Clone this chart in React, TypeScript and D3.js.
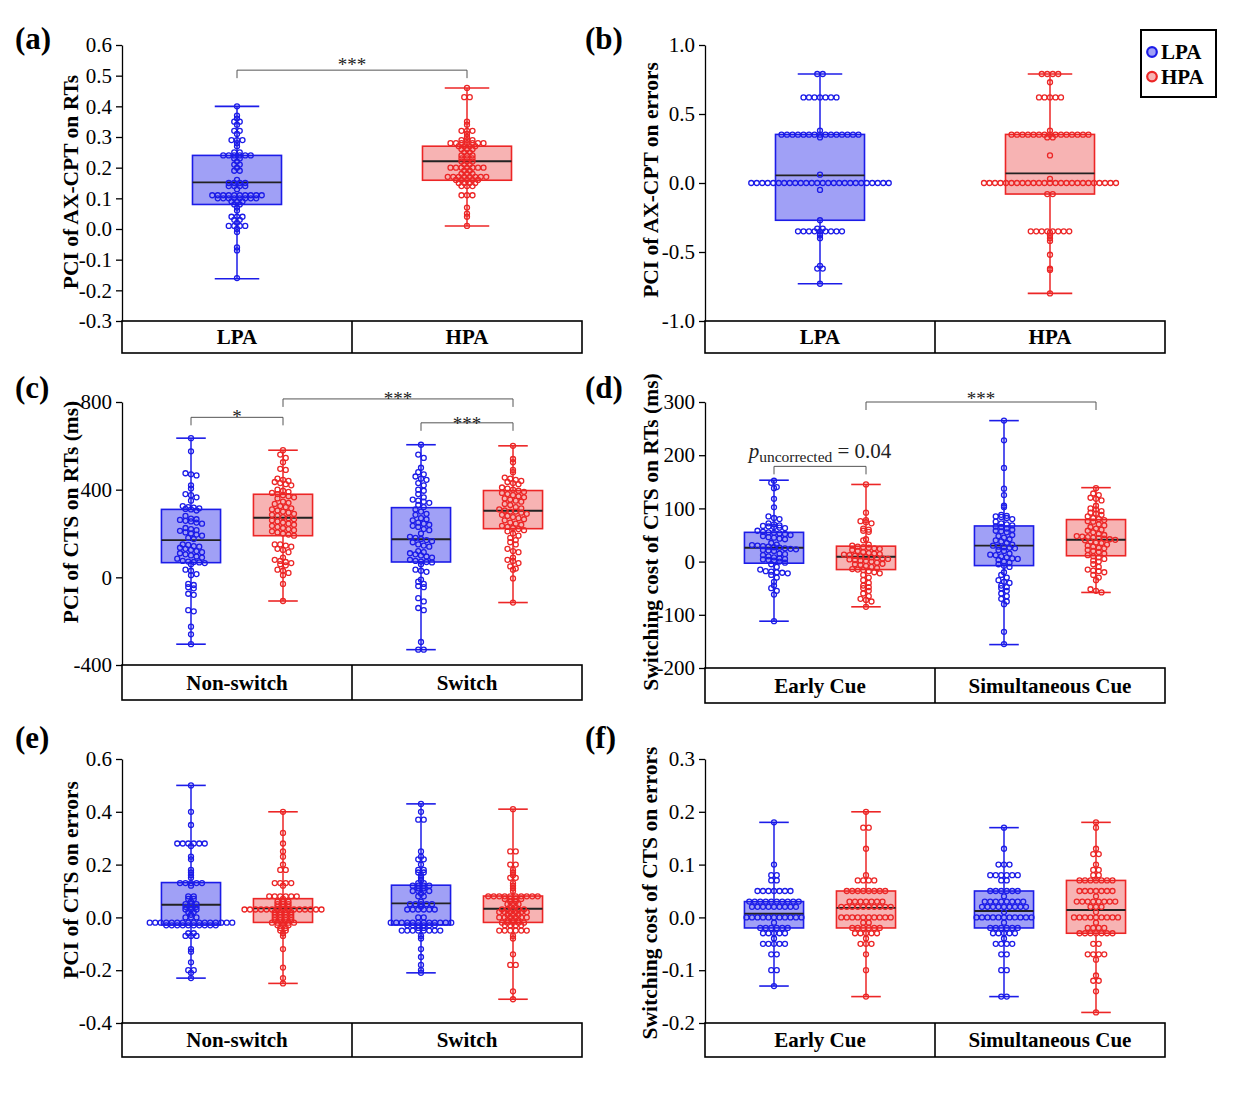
import { useRef, useEffect } from "react";
import * as d3 from "d3";

const FONT = "'Liberation Serif', 'Times New Roman', Times, serif";
const BLUE = "#1c1ce8";
const BLUE_FILL = "#a0a0f6";
const RED = "#ec2626";
const RED_FILL = "#f7b3b3";
const PLOT_W = 460;

// ---------- tick labels ----------
const aTicks = [-0.3, -0.2, -0.1, 0.0, 0.1, 0.2, 0.3, 0.4, 0.5, 0.6];
const bTicks = [-1.0, -0.5, 0.0, 0.5, 1.0];
const cTicks = [-400, 0, 400, 800];
const dTicks = [-200, -100, 0, 100, 200, 300];
const eTicks = [-0.4, -0.2, 0.0, 0.2, 0.4, 0.6];
const fTicks = [-0.2, -0.1, 0.0, 0.1, 0.2, 0.3];

// ---------- categories ----------
const groupNames = ["LPA", "HPA"];
const taskCats = ["Non-switch", "Switch"];
const cueCats = ["Early Cue", "Simultaneous Cue"];

// ---------- box statistics: [min, q1, median, q3, max] ----------
const aBoxLPA = [-0.162, 0.08, 0.152, 0.24, 0.40];
const aBoxHPA = [0.01, 0.159, 0.221, 0.27, 0.46];
const bBoxLPA = [-0.73, -0.27, 0.055, 0.352, 0.79];
const bBoxHPA = [-0.80, -0.08, 0.07, 0.352, 0.79];
const cBoxNsLPA = [-305, 67, 170, 310, 635];
const cBoxNsHPA = [-108, 190, 272, 379, 580];
const cBoxSwLPA = [-330, 70, 174, 318, 605];
const cBoxSwHPA = [-115, 222, 304, 396, 600];
const dBoxEaLPA = [-112, -3, 26, 55, 153];
const dBoxEaHPA = [-85, -15, 9, 29, 145];
const dBoxSiLPA = [-156, -7.5, 30, 67, 265];
const dBoxSiHPA = [-58, 11, 41, 79, 139];
const eBoxNsLPA = [-0.23, -0.029, 0.048, 0.132, 0.50];
const eBoxNsHPA = [-0.25, -0.019, 0.034, 0.071, 0.40];
const eBoxSwLPA = [-0.21, -0.029, 0.053, 0.122, 0.43];
const eBoxSwHPA = [-0.31, -0.019, 0.033, 0.081, 0.41];
const fBoxEaLPA = [-0.13, -0.02, 0.007, 0.03, 0.18];
const fBoxEaHPA = [-0.15, -0.02, 0.018, 0.05, 0.20];
const fBoxSiLPA = [-0.15, -0.02, 0.012, 0.05, 0.17];
const fBoxSiHPA = [-0.18, -0.03, 0.014, 0.07, 0.18];

// ---------- individual participants ----------
const aLPA = [
  0.40, 0.37, 0.36, 0.35, 0.35, 0.34, 0.32, 0.32, 0.31, 0.29, 0.29, 0.29, 0.28, 0.27,
  0.25, 0.25, 0.24, 0.24, 0.24, 0.24, 0.24, 0.24, 0.23, 0.23, 0.22, 0.21, 0.21, 0.20,
  0.19, 0.19, 0.16, 0.15, 0.15, 0.15, 0.15, 0.14, 0.14, 0.14, 0.14, 0.13,
  0.11, 0.11, 0.11, 0.11, 0.11, 0.11, 0.11, 0.11, 0.11, 0.11,
  0.10, 0.10, 0.10, 0.10, 0.10, 0.10, 0.10, 0.10, 0.09, 0.09, 0.09, 0.08, 0.08,
  0.07, 0.06, 0.04, 0.04, 0.04, 0.03, 0.03, 0.02, 0.01, 0.01, 0.01, 0.01, 0.00, -0.01,
  -0.06, -0.07, -0.16,
];
const aHPA = [
  0.46, 0.43, 0.43, 0.35, 0.34, 0.32, 0.32, 0.32, 0.31, 0.30, 0.29, 0.29, 0.29,
  0.28, 0.28, 0.28, 0.28, 0.28, 0.28, 0.28, 0.27, 0.27, 0.27, 0.27, 0.26, 0.26, 0.26,
  0.25, 0.25, 0.24, 0.24, 0.24, 0.23, 0.23, 0.23, 0.22, 0.22, 0.22, 0.21, 0.21,
  0.20, 0.20, 0.20, 0.20, 0.20, 0.20, 0.20, 0.19, 0.19, 0.18, 0.18, 0.18,
  0.17, 0.17, 0.17, 0.17, 0.17, 0.17, 0.17, 0.17, 0.16, 0.16, 0.16, 0.16, 0.16,
  0.15, 0.15, 0.15, 0.15, 0.14, 0.14, 0.14, 0.11, 0.11, 0.11, 0.07, 0.05, 0.04, 0.01,
];
const bLPA = [
  0.79, 0.79, 0.62, 0.62, 0.62, 0.62, 0.62, 0.62, 0.62, 0.38,
  0.35, 0.35, 0.35, 0.35, 0.35, 0.35, 0.35, 0.35, 0.35, 0.35, 0.35, 0.35, 0.35, 0.35, 0.35,
  0.33, 0.06,
  0.00, 0.00, 0.00, 0.00, 0.00, 0.00, 0.00, 0.00, 0.00, 0.00, 0.00, 0.00, 0.00,
  0.00, 0.00, 0.00, 0.00, 0.00, 0.00, 0.00, 0.00, 0.00, 0.00, 0.00, 0.00, 0.00,
  -0.05, -0.27, -0.33, -0.33,
  -0.35, -0.35, -0.35, -0.35, -0.35, -0.35, -0.35, -0.35, -0.35,
  -0.37, -0.38, -0.40, -0.60, -0.62, -0.62, -0.73,
];
const bHPA = [
  0.79, 0.79, 0.79, 0.79, 0.73, 0.62, 0.62, 0.62, 0.62, 0.62, 0.38,
  0.35, 0.35, 0.35, 0.35, 0.35, 0.35, 0.35, 0.35, 0.35, 0.35, 0.35, 0.35, 0.35, 0.35, 0.35,
  0.33, 0.33, 0.20, 0.03,
  0.00, 0.00, 0.00, 0.00, 0.00, 0.00, 0.00, 0.00, 0.00, 0.00, 0.00, 0.00, 0.00,
  0.00, 0.00, 0.00, 0.00, 0.00, 0.00, 0.00, 0.00, 0.00, 0.00, 0.00, 0.00,
  -0.08, -0.08,
  -0.35, -0.35, -0.35, -0.35, -0.35, -0.35, -0.35, -0.35,
  -0.36, -0.38, -0.40, -0.42, -0.52, -0.62, -0.63, -0.80,
];
const cNsLPA = [
  635, 575, 475, 470, 465, 420, 405, 380, 375, 365, 350, 325, 320, 318, 315, 312, 310, 305,
  280, 268, 265, 262, 258, 255, 250, 245, 225, 220, 215, 212, 205, 200, 195, 190, 180, 175,
  150, 148, 142, 140, 135, 130, 125, 120, 115, 110, 105, 100, 95, 90, 85, 75, 72, 70, 68,
  65, 60, 35, 30, 15, 10, -30, -35, -45, -50, -75, -80, -150, -155, -225, -260, -305,
];
const cNsHPA = [
  580, 560, 545, 525, 495, 490, 450, 445, 440, 435, 430, 425, 420, 400, 395, 390, 385,
  380, 375, 370, 365, 360, 345, 340, 335, 325, 320, 315, 310, 305, 300, 295, 290, 285,
  280, 275, 270, 265, 260, 255, 250, 245, 240, 235, 230, 225, 220, 215, 210, 205, 200,
  195, 190, 150, 150, 145, 140, 130, 125, 115, 90, 80, 75, 70, 65, 60, 55, 35, 30, 20,
  10, -30, -108,
];
const cSwLPA = [
  605, 560, 545, 500, 480, 470, 460, 450, 445, 430, 420, 400, 395, 380, 365, 355, 350,
  345, 340, 330, 320, 310, 300, 290, 285, 270, 265, 260, 250, 245, 240, 235, 230, 220,
  215, 200, 185, 180, 175, 170, 165, 160, 150, 145, 140, 120, 115, 110, 105, 100, 95, 90,
  80, 75, 72, 70, 68, 60, 35, 30, 25, -10, -20, -30, -40, -45, -95, -110, -140, -150,
  -295, -330, -330,
];
const cSwHPA = [
  600, 540, 525, 490, 480, 455, 450, 445, 440, 435, 430, 425, 410, 405, 400, 395, 390,
  385, 380, 375, 370, 365, 360, 355, 350, 345, 335, 330, 320, 315, 310, 305, 300, 300,
  295, 290, 285, 280, 275, 270, 265, 260, 250, 245, 240, 235, 230, 225, 220, 215, 210,
  200, 190, 180, 170, 160, 150, 130, 120, 115, 90, 80, 75, 65, 50, 40, 35, -5, -115,
];
const dEaLPA = [
  152, 148, 140, 138, 118, 102, 85, 82, 80, 72, 70, 68, 67, 66, 65, 64, 63, 58, 56, 55,
  54, 53, 52, 50, 48, 46, 45, 43, 42, 35, 32, 31, 30, 29, 28, 27, 26, 25, 24, 23, 22, 21,
  20, 15, 14, 12, 10, 8, 6, 5, 4, 3, 2, 0, -2, -5, -10, -15, -18, -19, -20, -21, -22, -25,
  -30, -38, -45, -50, -55, -62, -112,
];
const dEaHPA = [
  145, 92, 78, 76, 74, 72, 62, 60, 58, 56, 42, 40, 32, 30, 28, 27, 26, 25, 24, 22, 20,
  18, 16, 15, 14, 13, 12, 11, 10, 9, 8, 7, 6, 5, 4, 3, 2, 1, 0, -2, -4, -5, -6, -8, -10,
  -12, -14, -15, -16, -18, -20, -22, -25, -30, -35, -40, -45, -48, -50, -55, -60, -65,
  -70, -72, -75, -85,
];
const dSiLPA = [
  265, 228, 176, 137, 125, 105, 102, 88, 86, 85, 84, 82, 80, 75, 72, 70, 68, 66, 65, 62,
  60, 58, 57, 55, 50, 48, 45, 42, 40, 38, 35, 32, 30, 28, 27, 26, 25, 22, 20, 15, 13, 12,
  10, 8, 6, 5, 3, 0, -2, -5, -8, -10, -20, -25, -30, -35, -38, -40, -45, -48, -50, -55,
  -60, -65, -70, -75, -80, -132, -155,
];
const dSiHPA = [
  138, 128, 125, 120, 118, 115, 105, 100, 98, 95, 92, 90, 88, 85, 82, 80, 78, 76, 75, 70,
  68, 65, 62, 60, 58, 55, 52, 50, 48, 47, 46, 45, 44, 43, 42, 41, 40, 38, 36, 35, 32, 30,
  28, 26, 25, 22, 20, 18, 15, 12, 10, 8, 5, 2, 0, -5, -10, -15, -17, -18, -20, -25, -30,
  -35, -52, -55, -58,
];
const eNsLPA = [
  0.50, 0.40, 0.35, 0.28, 0.28, 0.28, 0.28, 0.28, 0.28, 0.27, 0.23, 0.22, 0.18, 0.17,
  0.16, 0.15, 0.13, 0.13, 0.13, 0.13, 0.13, 0.12, 0.08, 0.08, 0.07, 0.07, 0.06,
  0.05, 0.05, 0.05, 0.04, 0.04, 0.04, 0.03, 0.03, 0.03, 0.02, 0.02, 0.01, 0.00, 0.00, 0.00,
  -0.02, -0.02, -0.02, -0.02, -0.02, -0.02, -0.02, -0.02,
  -0.02, -0.02, -0.02, -0.02, -0.02, -0.02, -0.02, -0.02,
  -0.03, -0.03, -0.03, -0.03, -0.03, -0.03, -0.03, -0.03, -0.03, -0.03,
  -0.06, -0.06, -0.07, -0.07, -0.07, -0.12, -0.13, -0.17, -0.20, -0.20, -0.21, -0.23,
];
const eNsHPA = [
  0.40, 0.32, 0.28, 0.25, 0.23, 0.20, 0.18, 0.18, 0.13, 0.13, 0.13, 0.13, 0.12,
  0.08, 0.08, 0.08, 0.08, 0.08, 0.08, 0.07, 0.06, 0.06, 0.06, 0.05, 0.05, 0.05,
  0.04, 0.04, 0.04,
  0.03, 0.03, 0.03, 0.03, 0.03, 0.03, 0.03, 0.03, 0.03, 0.03, 0.03, 0.03, 0.03, 0.03, 0.03,
  0.02, 0.02, 0.02, 0.02, 0.01, 0.01, 0.01, 0.01, 0.00, 0.00, 0.00, 0.00,
  -0.01, -0.01, -0.01, -0.01, -0.02, -0.02, -0.02, -0.02, -0.02, -0.03, -0.03, -0.03,
  -0.04, -0.04, -0.05, -0.05, -0.06, -0.07, -0.12, -0.19, -0.23, -0.25,
];
const eSwLPA = [
  0.43, 0.40, 0.37, 0.37, 0.25, 0.23, 0.22, 0.22, 0.20, 0.18, 0.18, 0.17, 0.17, 0.16,
  0.15, 0.14, 0.13, 0.13, 0.12, 0.12, 0.12, 0.12, 0.11, 0.11, 0.10, 0.10, 0.10, 0.10,
  0.09, 0.08, 0.08, 0.06, 0.05, 0.05, 0.05, 0.05, 0.05, 0.04,
  0.03, 0.03, 0.03, 0.03, 0.03, 0.03, 0.00, 0.00,
  -0.02, -0.02, -0.02, -0.02, -0.02, -0.02, -0.02, -0.02, -0.02, -0.02, -0.02, -0.02,
  -0.03, -0.03, -0.03, -0.03, -0.03, -0.03, -0.04, -0.04,
  -0.05, -0.05, -0.05, -0.05, -0.05, -0.05, -0.05, -0.05,
  -0.07, -0.08, -0.12, -0.15, -0.18, -0.20, -0.21,
];
const eSwHPA = [
  0.41, 0.25, 0.25, 0.20, 0.20, 0.18, 0.17, 0.16, 0.15, 0.15, 0.13, 0.12, 0.11, 0.10,
  0.08, 0.08, 0.08, 0.08, 0.08, 0.08, 0.08, 0.08, 0.08, 0.08,
  0.07, 0.07, 0.07, 0.07, 0.06, 0.06, 0.05, 0.05, 0.05, 0.04, 0.04,
  0.03, 0.03, 0.03, 0.03, 0.03, 0.02, 0.02, 0.02, 0.02, 0.02, 0.02,
  0.01, 0.01, 0.01, 0.00, 0.00, 0.00, 0.00, 0.00, 0.00,
  -0.01, -0.01, -0.01, -0.02, -0.02, -0.02, -0.02, -0.02, -0.03, -0.03, -0.03, -0.03,
  -0.05, -0.05, -0.05, -0.05, -0.05, -0.05,
  -0.07, -0.08, -0.14, -0.18, -0.18, -0.28, -0.31,
];
const fEaLPA = [
  0.18, 0.10, 0.08, 0.08, 0.07, 0.07,
  0.05, 0.05, 0.05, 0.05, 0.05, 0.05, 0.05,
  0.03, 0.03, 0.03, 0.03, 0.03, 0.03, 0.03, 0.03, 0.03, 0.03,
  0.02, 0.02, 0.02, 0.02, 0.02, 0.02, 0.02, 0.02, 0.02,
  0.00, 0.00, 0.00, 0.00, 0.00, 0.00, 0.00, 0.00, 0.00, 0.00, 0.00, -0.01,
  -0.02, -0.02, -0.02, -0.02, -0.02, -0.02, -0.03, -0.03, -0.03, -0.03, -0.03, -0.04,
  -0.05, -0.05, -0.05, -0.05, -0.05, -0.07, -0.07, -0.10, -0.10, -0.13,
];
const fEaHPA = [
  0.20, 0.17, 0.17, 0.13, 0.08, 0.07, 0.07, 0.07, 0.07,
  0.05, 0.05, 0.05, 0.05, 0.05, 0.05, 0.05, 0.05,
  0.03, 0.03, 0.03, 0.03, 0.03, 0.03, 0.03,
  0.02, 0.02, 0.02, 0.02, 0.02, 0.02, 0.02, 0.02, 0.02, 0.02,
  0.00, 0.00, 0.00, 0.00, 0.00, 0.00, 0.00, 0.00, 0.00, 0.00, -0.01, -0.01,
  -0.02, -0.02, -0.02, -0.02, -0.02, -0.02, -0.03, -0.03, -0.03, -0.03, -0.03, -0.04,
  -0.05, -0.05, -0.05, -0.07, -0.10, -0.15,
];
const fSiLPA = [
  0.17, 0.13, 0.10, 0.10, 0.10, 0.08, 0.08, 0.08, 0.08, 0.08, 0.08, 0.07, 0.07,
  0.05, 0.05, 0.05, 0.05, 0.05, 0.05, 0.04,
  0.03, 0.03, 0.03, 0.03, 0.03, 0.03, 0.03, 0.03,
  0.02, 0.02, 0.02, 0.02, 0.02, 0.02, 0.02, 0.02, 0.02, 0.01,
  0.00, 0.00, 0.00, 0.00, 0.00, 0.00, 0.00, 0.00, 0.00, 0.00, 0.00, -0.01,
  -0.02, -0.02, -0.02, -0.02, -0.02, -0.02, -0.03, -0.03, -0.03, -0.03, -0.03, -0.04,
  -0.05, -0.05, -0.05, -0.05, -0.07, -0.07, -0.10, -0.10, -0.15, -0.15,
];
const fSiHPA = [
  0.18, 0.17, 0.13, 0.12, 0.12, 0.10, 0.09, 0.09, 0.08, 0.08,
  0.07, 0.07, 0.07, 0.07, 0.07, 0.07, 0.07,
  0.05, 0.05, 0.05, 0.05, 0.05, 0.05, 0.05, 0.04,
  0.03, 0.03, 0.03, 0.03, 0.03, 0.03, 0.03, 0.03, 0.02, 0.02, 0.02, 0.01,
  0.00, 0.00, 0.00, 0.00, 0.00, 0.00, 0.00, 0.00, 0.00, -0.01,
  -0.02, -0.02, -0.02, -0.02, -0.03, -0.03, -0.03, -0.03, -0.03, -0.03, -0.03,
  -0.05, -0.05, -0.07, -0.07, -0.07, -0.07, -0.08, -0.11, -0.12, -0.12, -0.14, -0.18,
];

interface Series { cat: string; grp: string; values: number[]; box: number[] }
interface Bracket { from: [string, string]; to: [string, string]; level: number; text: string; dy: number; pval?: boolean }
interface Frame {
  x: number; top: number; bottom: number; table: number;
  labelX: number; labelY: number; tagX: number; tagY: number;
}
interface Panel {
  tag: string; ylabel: string; ticks: number[]; digits: number; cats: string[];
  split: boolean; bin: number; series: Series[]; brackets: Bracket[]; frame: Frame;
}

const frames: Record<string, Frame> = {
  a: { x: 122, top: 45, bottom: 321, table: 353, labelX: 70, labelY: 182, tagX: 15, tagY: 49 },
  b: { x: 705, top: 45, bottom: 321, table: 353, labelX: 650, labelY: 180, tagX: 585, tagY: 49 },
  c: { x: 122, top: 402, bottom: 665, table: 700, labelX: 70, labelY: 512, tagX: 15, tagY: 398 },
  d: { x: 705, top: 402, bottom: 668, table: 703, labelX: 650, labelY: 532, tagX: 585, tagY: 398 },
  e: { x: 122, top: 759, bottom: 1023, table: 1057, labelX: 70, labelY: 880, tagX: 15, tagY: 748 },
  f: { x: 705, top: 759, bottom: 1023, table: 1057, labelX: 649, labelY: 893, tagX: 585, tagY: 748 },
};

const panels: Panel[] = [
  {
    tag: "(a)", ylabel: "PCI of AX-CPT on RTs", ticks: aTicks, digits: 1, cats: groupNames,
    split: false, bin: 0.01, frame: frames.a,
    series: [
      { cat: "LPA", grp: "LPA", values: aLPA, box: aBoxLPA },
      { cat: "HPA", grp: "HPA", values: aHPA, box: aBoxHPA },
    ],
    brackets: [{ from: ["LPA", "LPA"], to: ["HPA", "HPA"], level: 0.518, text: "***", dy: 1 }],
  },
  {
    tag: "(b)", ylabel: "PCI of AX-CPT on errors", ticks: bTicks, digits: 1, cats: groupNames,
    split: false, bin: 0.01, frame: frames.b,
    series: [
      { cat: "LPA", grp: "LPA", values: bLPA, box: bBoxLPA },
      { cat: "HPA", grp: "HPA", values: bHPA, box: bBoxHPA },
    ],
    brackets: [],
  },
  {
    tag: "(c)", ylabel: "PCI of CTS on RTs (ms)", ticks: cTicks, digits: 0, cats: taskCats,
    split: true, bin: 25, frame: frames.c,
    series: [
      { cat: "Non-switch", grp: "LPA", values: cNsLPA, box: cBoxNsLPA },
      { cat: "Non-switch", grp: "HPA", values: cNsHPA, box: cBoxNsHPA },
      { cat: "Switch", grp: "LPA", values: cSwLPA, box: cBoxSwLPA },
      { cat: "Switch", grp: "HPA", values: cSwHPA, box: cBoxSwHPA },
    ],
    brackets: [
      { from: ["Non-switch", "LPA"], to: ["Non-switch", "HPA"], level: 730, text: "*", dy: 6 },
      { from: ["Non-switch", "HPA"], to: ["Switch", "HPA"], level: 814, text: "***", dy: 6 },
      { from: ["Switch", "LPA"], to: ["Switch", "HPA"], level: 705, text: "***", dy: 7 },
    ],
  },
  {
    tag: "(d)", ylabel: "Switching cost of CTS on RTs (ms)", ticks: dTicks, digits: 0, cats: cueCats,
    split: true, bin: 9, frame: frames.d,
    series: [
      { cat: "Early Cue", grp: "LPA", values: dEaLPA, box: dBoxEaLPA },
      { cat: "Early Cue", grp: "HPA", values: dEaHPA, box: dBoxEaHPA },
      { cat: "Simultaneous Cue", grp: "LPA", values: dSiLPA, box: dBoxSiLPA },
      { cat: "Simultaneous Cue", grp: "HPA", values: dSiHPA, box: dBoxSiHPA },
    ],
    brackets: [
      { from: ["Early Cue", "LPA"], to: ["Early Cue", "HPA"], level: 179, text: "= 0.04", dy: -8, pval: true },
      { from: ["Early Cue", "HPA"], to: ["Simultaneous Cue", "HPA"], level: 300, text: "***", dy: 3 },
    ],
  },
  {
    tag: "(e)", ylabel: "PCI of CTS on errors", ticks: eTicks, digits: 1, cats: taskCats,
    split: true, bin: 0.01, frame: frames.e,
    series: [
      { cat: "Non-switch", grp: "LPA", values: eNsLPA, box: eBoxNsLPA },
      { cat: "Non-switch", grp: "HPA", values: eNsHPA, box: eBoxNsHPA },
      { cat: "Switch", grp: "LPA", values: eSwLPA, box: eBoxSwLPA },
      { cat: "Switch", grp: "HPA", values: eSwHPA, box: eBoxSwHPA },
    ],
    brackets: [],
  },
  {
    tag: "(f)", ylabel: "Switching cost of CTS on errors", ticks: fTicks, digits: 1, cats: cueCats,
    split: true, bin: 0.01, frame: frames.f,
    series: [
      { cat: "Early Cue", grp: "LPA", values: fEaLPA, box: fBoxEaLPA },
      { cat: "Early Cue", grp: "HPA", values: fEaHPA, box: fBoxEaHPA },
      { cat: "Simultaneous Cue", grp: "LPA", values: fSiLPA, box: fBoxSiLPA },
      { cat: "Simultaneous Cue", grp: "HPA", values: fSiHPA, box: fBoxSiHPA },
    ],
    brackets: [],
  },
];

const colorOf = (grp: string) => (grp === "LPA" ? BLUE : RED);
const fillOf = (grp: string) => (grp === "LPA" ? BLUE_FILL : RED_FILL);

// values sharing a bin are laid side by side, centred on the box
function swarm(values: number[], bin: number, spacing: number) {
  const bins = d3.group(values, v => Math.round(v / bin));
  const out: { v: number; dx: number }[] = [];
  for (const [, vs] of bins) {
    const sorted = vs.slice().sort((a, b) => b - a);
    const n = sorted.length;
    sorted.forEach((v, i) => out.push({ v, dx: (i - (n - 1) / 2) * spacing }));
  }
  return out;
}

function drawPanel(svg: d3.Selection<SVGSVGElement, unknown, null, undefined>, p: Panel) {
  const f = p.frame;
  const g = svg.append("g").attr("font-family", FONT);

  const y = d3.scaleLinear()
    .domain(d3.extent(p.ticks) as [number, number])
    .range([f.bottom, f.top]);
  const xCat = d3.scaleBand().domain(p.cats).range([f.x, f.x + PLOT_W]);
  const bw = xCat.bandwidth();
  const xSub = d3.scalePoint().domain(groupNames).range([0, bw]).padding(0.75);
  const xOf = (cat: string, grp: string) => xCat(cat)! + (p.split ? xSub(grp)! : bw / 2);
  const boxW = bw * (p.split ? 0.257 : 0.387);
  const capW = boxW * 0.5;

  // y axis
  g.append("g")
    .attr("transform", `translate(${f.x},0)`)
    .call(d3.axisLeft(y).tickValues(p.ticks).tickSize(6).tickSizeOuter(0).tickPadding(4)
      .tickFormat(d => (d as number).toFixed(p.digits)))
    .call(s => s.select(".domain").attr("stroke", "#000").attr("stroke-width", 1.3))
    .call(s => s.selectAll(".tick line").attr("stroke", "#000").attr("stroke-width", 1.3))
    .call(s => s.selectAll(".tick text").attr("fill", "#000").attr("font-size", "21px")
      .attr("font-family", FONT));

  // category table
  g.append("rect")
    .attr("x", f.x).attr("y", f.bottom)
    .attr("width", PLOT_W).attr("height", f.table - f.bottom)
    .attr("fill", "none").attr("stroke", "#000").attr("stroke-width", 1.6);
  g.append("line")
    .attr("x1", xCat(p.cats[1])!).attr("x2", xCat(p.cats[1])!)
    .attr("y1", f.bottom).attr("y2", f.table)
    .attr("stroke", "#000").attr("stroke-width", 1.6);
  g.selectAll(".cat")
    .data(p.cats)
    .join("text")
    .attr("x", d => xCat(d)! + bw / 2)
    .attr("y", (f.bottom + f.table) / 2)
    .attr("dy", "0.35em")
    .attr("text-anchor", "middle")
    .attr("font-size", "21px")
    .attr("font-weight", "bold")
    .text(d => d);

  // y label and tag
  g.append("text")
    .attr("transform", `translate(${f.labelX},${f.labelY}) rotate(-90)`)
    .attr("dy", "0.35em")
    .attr("text-anchor", "middle")
    .attr("font-size", "21.5px")
    .attr("font-weight", "bold")
    .text(p.ylabel);
  g.append("text")
    .attr("x", f.tagX).attr("y", f.tagY)
    .attr("font-size", "31px")
    .attr("font-weight", "bold")
    .text(p.tag);

  // boxes, whiskers, points
  p.series.forEach(s => {
    const cx = xOf(s.cat, s.grp);
    const [mn, q1, md, q3, mx] = s.box;
    const col = colorOf(s.grp);
    const sg = g.append("g");
    sg.append("rect")
      .attr("x", cx - boxW / 2).attr("y", y(q3))
      .attr("width", boxW).attr("height", y(q1) - y(q3))
      .attr("fill", fillOf(s.grp)).attr("stroke", col).attr("stroke-width", 1.6);
    sg.append("line")
      .attr("x1", cx).attr("x2", cx).attr("y1", y(q3)).attr("y2", y(mx))
      .attr("stroke", col).attr("stroke-width", 1.5);
    sg.append("line")
      .attr("x1", cx).attr("x2", cx).attr("y1", y(q1)).attr("y2", y(mn))
      .attr("stroke", col).attr("stroke-width", 1.5);
    [mn, mx].forEach(v => {
      sg.append("line")
        .attr("x1", cx - capW / 2).attr("x2", cx + capW / 2)
        .attr("y1", y(v)).attr("y2", y(v))
        .attr("stroke", col).attr("stroke-width", 1.6);
    });
    sg.append("line")
      .attr("x1", cx - boxW / 2).attr("x2", cx + boxW / 2)
      .attr("y1", y(md)).attr("y2", y(md))
      .attr("stroke", "#222").attr("stroke-width", 1.9);
    sg.selectAll("circle")
      .data(swarm(s.values, p.bin, 5.5))
      .join("circle")
      .attr("cx", d => cx + d.dx)
      .attr("cy", d => y(d.v))
      .attr("r", 2.5)
      .attr("fill", "none")
      .attr("stroke", col)
      .attr("stroke-width", 1.3);
  });

  // significance brackets
  p.brackets.forEach(b => {
    const x1 = xOf(b.from[0], b.from[1]);
    const x2 = xOf(b.to[0], b.to[1]);
    const yl = y(b.level);
    g.append("path")
      .attr("d", `M${x1},${yl + 8}V${yl}H${x2}V${yl + 8}`)
      .attr("fill", "none").attr("stroke", "#555").attr("stroke-width", 1);
    const t = g.append("text")
      .attr("x", (x1 + x2) / 2).attr("y", yl + b.dy)
      .attr("text-anchor", "middle")
      .attr("fill", "#222");
    if (b.pval) {
      t.attr("font-size", "21px");
      t.append("tspan").attr("font-style", "italic").text("p");
      t.append("tspan").attr("font-size", "15.5px").attr("dy", 4).text("uncorrected");
      t.append("tspan").attr("dy", -4).text(" " + b.text);
    } else {
      t.attr("font-size", "19px").text(b.text);
    }
  });
}

function drawLegend(svg: d3.Selection<SVGSVGElement, unknown, null, undefined>) {
  const lg = svg.append("g").attr("font-family", FONT);
  lg.append("rect")
    .attr("x", 1141).attr("y", 30).attr("width", 75).attr("height", 67)
    .attr("fill", "#fff").attr("stroke", "#000").attr("stroke-width", 2);
  groupNames.forEach((name, i) => {
    const cy = 52 + i * 24.6;
    lg.append("circle")
      .attr("cx", 1152).attr("cy", cy).attr("r", 4.8)
      .attr("fill", fillOf(name)).attr("stroke", colorOf(name)).attr("stroke-width", 2.2);
    lg.append("text")
      .attr("x", 1161).attr("y", cy).attr("dy", "0.35em")
      .attr("font-size", "21px").attr("font-weight", "bold")
      .text(name);
  });
}

export default function App() {
  const svgRef = useRef<SVGSVGElement>(null);

  useEffect(() => {
    if (!svgRef.current) return;
    const svg = d3.select(svgRef.current);
    svg.selectAll("*").remove();
    panels.forEach(p => drawPanel(svg, p));
    drawLegend(svg);
  }, []);

  return (
    <div style={{ position: "absolute", left: 0, top: 0 }}>
      <svg ref={svgRef} width={1240} height={1093} style={{ display: "block", background: "#fff" }} />
    </div>
  );
}
